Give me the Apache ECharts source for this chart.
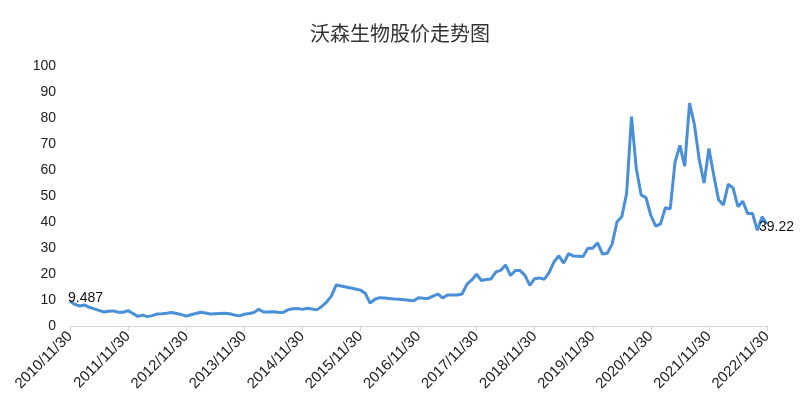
<!DOCTYPE html>
<html>
<head>
<meta charset="utf-8">
<script src="https://cdn.jsdelivr.net/npm/echarts@6/dist/echarts.min.js"></script>
<style>
  html, body { margin: 0; padding: 0; background: #fff; }
  #chart { width: 800px; height: 411px; }
</style>
</head>
<body>
<div id="chart"></div>
<script>
// month-end dates, 2010/11/30 .. 2022/11/30
const months = [];
for (let y = 2010; y <= 2022; y++) {
  for (let m = 1; m <= 12; m++) {
    if (y === 2010 && m < 11) continue;
    if (y === 2022 && m > 11) break;
    const last = new Date(y, m, 0).getDate();
    months.push(y + "/" + m + "/" + last);
  }
}

// closing price, one value per month
const prices = [
  9.487, 8.3, 7.7, 8.1, 7.2, 6.6, 6.0, 5.4, 5.7, 5.8, 5.3, 5.3,
  5.9, 4.8, 3.7, 4.2, 3.6, 4.0, 4.6, 4.7, 4.9, 5.2, 4.8, 4.4,
  3.8, 4.3, 4.8, 5.3, 5.0, 4.6, 4.7, 4.8, 4.9, 4.7, 4.2, 3.9,
  4.5, 4.8, 5.2, 6.4, 5.4, 5.4, 5.5, 5.3, 5.2, 6.2, 6.6, 6.7,
  6.4, 6.8, 6.5, 6.2, 7.5, 9.2, 11.5, 15.8, 15.4, 15.0, 14.6, 14.2,
  13.8, 12.6, 8.8, 10.3, 10.9, 10.8, 10.6, 10.4, 10.3, 10.1, 9.9, 9.7,
  10.9, 10.7, 10.6, 11.5, 12.3, 10.8, 11.9, 11.9, 11.9, 12.3, 16.0, 17.7,
  19.9, 17.5, 17.9, 18.1, 20.8, 21.4, 23.5, 19.4, 21.3, 21.3, 19.5, 15.6,
  18.2, 18.5, 18.0, 20.6, 24.7, 27.0, 24.2, 27.8, 26.9, 26.8, 26.7, 29.9,
  29.9, 32.0, 27.7, 28.0, 31.5, 40.0, 42.0, 51.0, 80.5, 60.5, 50.4, 49.4,
  42.5, 38.4, 39.3, 45.5, 45.0, 63.0, 69.5, 61.5, 85.7, 77.5, 64.0, 55.0,
  68.3, 58.0, 48.5, 46.6, 54.6, 53.0, 45.9, 48.0, 43.3, 43.3, 36.8, 42.0,
  39.22
];

const yTicks = [0, 100, 10];

// which points carry a value label, and label nudge
const labelled = { 0: [-7, -3], [prices.length - 1]: [-13, 3] };

const seriesData = prices.map((v, i) => {
  if (labelled[i] === undefined) return v;
  return {
    value: v,
    label: {
      show: true,
      position: "right",
      offset: labelled[i],
      formatter: String(v),
      color: "#111",
      fontSize: 14,
      fontFamily: "Liberation Sans, Arial, sans-serif",
    },
  };
});

const chart = echarts.init(document.getElementById("chart"), null, { renderer: "canvas" });

chart.setOption({
  animation: false,
  title: {
    text: "沃森生物股价走势图",
    left: "center",
    top: 18,
    textStyle: {
      fontSize: 20,
      fontWeight: "normal",
      color: "#333",
      fontFamily: "Noto Sans CJK SC, sans-serif",
    },
  },
  grid: { left: 70, right: 33, top: 66, bottom: 85 },
  xAxis: {
    type: "category",
    data: months,
    boundaryGap: false,
    axisLine: { lineStyle: { color: "#d4d4d4", width: 1 } },
    axisTick: { show: true, interval: 11, length: 5, lineStyle: { color: "#d4d4d4" } },
    axisLabel: {
      interval: 11,
      rotate: 45,
      margin: 8,
      color: "#222",
      fontSize: 15,
      fontFamily: "Liberation Sans, Arial, sans-serif",
    },
    splitLine: { show: false },
  },
  yAxis: {
    type: "value",
    min: yTicks[0],
    max: yTicks[1],
    interval: yTicks[2],
    axisLine: { show: false },
    axisTick: { show: false },
    splitLine: { show: false },
    axisLabel: {
      margin: 14,
      color: "#222",
      fontSize: 14,
      fontFamily: "Liberation Sans, Arial, sans-serif",
    },
  },
  series: [
    {
      type: "line",
      data: seriesData,
      showSymbol: true,
      showAllSymbol: true,
      symbol: "circle",
      symbolSize: 0,
      lineStyle: { color: "#4a90d9", width: 3 },
      itemStyle: { color: "#4a90d9" },
    },
  ],
});
</script>
</body>
</html>
